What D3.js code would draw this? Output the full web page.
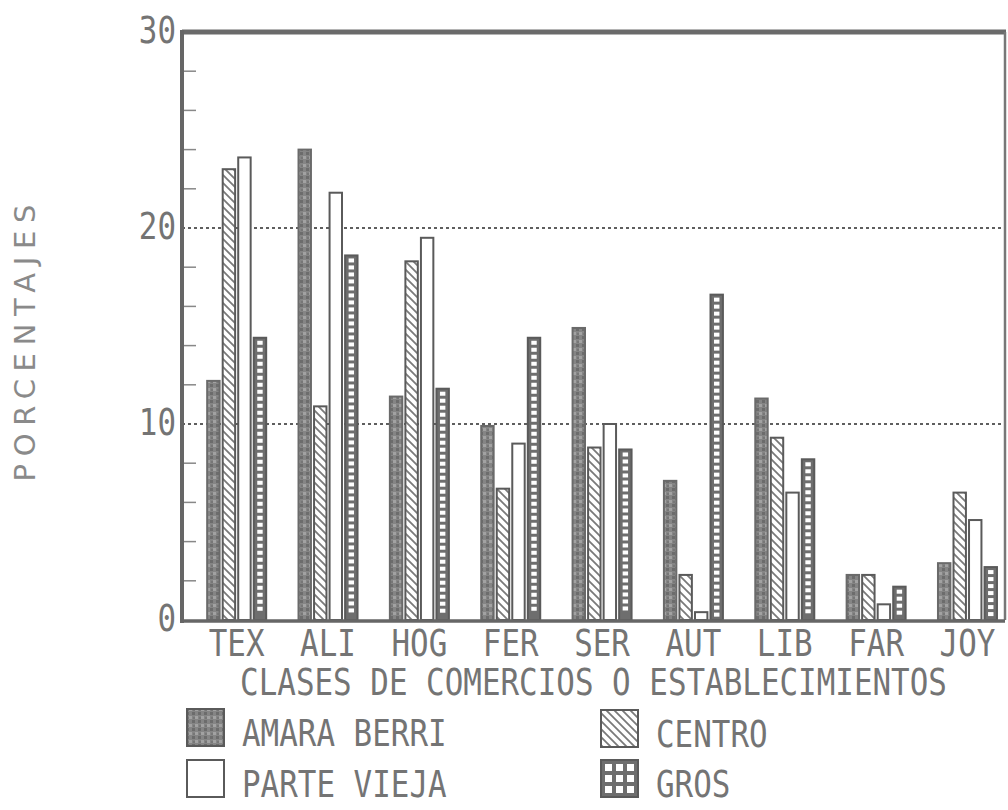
<!DOCTYPE html>
<html>
<head>
<meta charset="utf-8">
<script src="https://cdn.jsdelivr.net/npm/d3@7"></script>
<style>
  body { margin: 0; background: #fff; }
  svg { display: block; }
</style>
</head>
<body>
<div id="chart"></div>
<script>
// Categories and series
const categories = ["TEX", "ALI", "HOG", "FER", "SER", "AUT", "LIB", "FAR", "JOY"];
const seriesNames = ["AMARA BERRI", "CENTRO", "PARTE VIEJA", "GROS"];
const amaraBerri = [12.2, 24.0, 11.4, 9.9, 14.9, 7.1, 11.3, 2.3, 2.9];
const centro     = [23.0, 10.9, 18.3, 6.7, 8.8, 2.3, 9.3, 2.3, 6.5];
const parteVieja = [23.6, 21.8, 19.5, 9.0, 10.0, 0.4, 6.5, 0.8, 5.1];
const gros       = [14.4, 18.6, 11.8, 14.4, 8.7, 16.6, 8.2, 1.7, 2.7];
const yTicks = [0, 10, 20, 30];
const yMinorTicks = [2, 4, 6, 8, 12, 14, 16, 18, 22, 24, 26, 28];
const gridValues = [10, 20];

const seriesValues = [amaraBerri, centro, parteVieja, gros];

const width = 1008, height = 810;
const plotLeft = 182, plotRight = 1005, plotTop = 32, plotBottom = 620;

const svg = d3.select("#chart").append("svg")
  .attr("width", width)
  .attr("height", height);

svg.append("rect").attr("width", width).attr("height", height).attr("fill", "#fff");

const defs = svg.append("defs");

// mottled grey fill for AMARA BERRI
const pAmara = defs.append("pattern")
  .attr("id", "amara").attr("patternUnits", "userSpaceOnUse")
  .attr("width", 6).attr("height", 8);
pAmara.append("rect").attr("width", 6).attr("height", 8).attr("fill", "#858585");
pAmara.append("rect").attr("x", 0).attr("y", 0).attr("width", 3).attr("height", 3).attr("fill", "#6c6c6c");
pAmara.append("rect").attr("x", 3).attr("y", 4).attr("width", 3).attr("height", 3).attr("fill", "#a2a2a2");
pAmara.append("rect").attr("x", 1).attr("y", 5).attr("width", 2).attr("height", 2).attr("fill", "#777");

// diagonal hatch for CENTRO
const pCentro = defs.append("pattern")
  .attr("id", "centro").attr("patternUnits", "userSpaceOnUse")
  .attr("width", 8).attr("height", 8);
pCentro.append("rect").attr("width", 8).attr("height", 8).attr("fill", "#fff");
pCentro.append("path")
  .attr("d", "M0,0L8,8M-2,6L2,10M6,-2L10,2")
  .attr("stroke", "#7a7a7a").attr("stroke-width", 1.8);

// y scale
const y = d3.scaleLinear().domain([0, 30]).range([plotBottom, plotTop]);

// x scales
const x = d3.scaleBand().domain(categories).range([191, 191 + 9 * 91.35]).padding(0);
const groupWidth = 59;
const xInner = d3.scaleBand().domain(seriesNames).range([0, groupWidth]).paddingInner(0.2);
const groupLeft = c => x(c) + (x.bandwidth() - groupWidth) / 2;

// gridlines
svg.append("g").selectAll("line")
  .data(gridValues)
  .join("line")
  .attr("x1", plotLeft).attr("x2", plotRight)
  .attr("y1", d => y(d)).attr("y2", d => y(d))
  .attr("stroke", "#5e5e5e").attr("stroke-width", 2)
  .attr("stroke-dasharray", "3,3");

// minor ticks on the inside of the y axis
svg.append("g").selectAll("line")
  .data(yMinorTicks)
  .join("line")
  .attr("x1", plotLeft).attr("x2", plotLeft + 14)
  .attr("y1", d => y(d)).attr("y2", d => y(d))
  .attr("stroke", "#888").attr("stroke-width", 1.5);

// bars
const barData = [];
categories.forEach((c, i) => {
  seriesNames.forEach((s, k) => {
    barData.push({ cat: c, series: s, value: seriesValues[k][i] });
  });
});

const bars = svg.append("g");
const bw = xInner.bandwidth();

bars.selectAll("rect.bar")
  .data(barData)
  .join("rect")
  .attr("class", "bar")
  .attr("x", d => groupLeft(d.cat) + xInner(d.series))
  .attr("y", d => y(d.value))
  .attr("width", bw)
  .attr("height", d => plotBottom - y(d.value))
  .attr("fill", d => d.series === "AMARA BERRI" ? "url(#amara)"
    : d.series === "CENTRO" ? "url(#centro)"
    : d.series === "GROS" ? "#6e6e6e" : "#fff")
  .attr("stroke", d => d.series === "AMARA BERRI" ? "#6a6a6a" : "#5a5a5a")
  .attr("stroke-width", 2);

// white squares inside GROS bars
barData.filter(d => d.series === "GROS").forEach(d => {
  const bx = groupLeft(d.cat) + xInner(d.series);
  const top = y(d.value);
  const n = Math.floor((plotBottom - top - 3) / 7);
  bars.selectAll(null)
    .data(d3.range(n))
    .join("rect")
    .attr("x", bx + 3.5)
    .attr("y", j => top + 3 + j * 7)
    .attr("width", bw - 7)
    .attr("height", 4)
    .attr("fill", "#fff");
});

// frame
svg.append("line").attr("x1", plotLeft).attr("x2", plotRight + 1)
  .attr("y1", plotTop).attr("y2", plotTop)
  .attr("stroke", "#6a6a6a").attr("stroke-width", 5);
svg.append("line").attr("x1", plotRight).attr("x2", plotRight)
  .attr("y1", plotTop).attr("y2", plotBottom)
  .attr("stroke", "#777").attr("stroke-width", 2.5);
svg.append("line").attr("x1", plotLeft).attr("x2", plotRight)
  .attr("y1", plotBottom + 1).attr("y2", plotBottom + 1)
  .attr("stroke", "#666").attr("stroke-width", 3.5);
svg.append("line").attr("x1", plotLeft).attr("x2", plotLeft)
  .attr("y1", plotTop - 2).attr("y2", plotBottom + 3)
  .attr("stroke", "#666").attr("stroke-width", 4);

// plotter-like monospace text: tall and narrow
const monoSize = 37;
function monoText(g, str, px, py, anchor) {
  return g.append("text")
    .attr("transform", `translate(${px},${py}) scale(0.835,1.03)`)
    .attr("text-anchor", anchor)
    .style("font-family", "'DejaVu Sans Mono', monospace")
    .style("font-size", monoSize + "px")
    .style("fill", "#747474")
    .text(str);
}

// y tick labels
const yLab = svg.append("g");
yTicks.forEach(t => monoText(yLab, String(t), 176, y(t) + 11, "end"));

// category labels
const xLab = svg.append("g");
categories.forEach(c => monoText(xLab, c, x(c) + x.bandwidth() / 2, 656, "middle"));

// x title
monoText(svg, "CLASES DE COMERCIOS O ESTABLECIMIENTOS", (plotLeft + plotRight) / 2, 695, "middle");

// y title
svg.append("text")
  .attr("transform", "translate(35,343) rotate(-90)")
  .attr("text-anchor", "middle")
  .attr("textLength", 277)
  .attr("lengthAdjust", "spacing")
  .style("font-family", "'DejaVu Sans', sans-serif")
  .style("font-size", "29px")
  .style("fill", "#8a8a8a")
  .text("PORCENTAJES");

// legend
const legendItems = [
  { name: "AMARA BERRI", x: 187, y: 709 },
  { name: "CENTRO", x: 601, y: 710 },
  { name: "PARTE VIEJA", x: 187, y: 760 },
  { name: "GROS", x: 601, y: 760 }
];
const legend = svg.append("g");
legendItems.forEach(it => {
  const sw = 37;
  const fill = it.name === "AMARA BERRI" ? "url(#amara)"
    : it.name === "CENTRO" ? "url(#centro)"
    : it.name === "GROS" ? "#6e6e6e" : "#fff";
  legend.append("rect")
    .attr("x", it.x).attr("y", it.y)
    .attr("width", sw).attr("height", sw)
    .attr("fill", fill)
    .attr("stroke", "#5a5a5a").attr("stroke-width", 2);
  if (it.name === "GROS") {
    legend.selectAll(null)
      .data(d3.range(9))
      .join("rect")
      .attr("x", j => it.x + 4 + (j % 3) * 11)
      .attr("y", j => it.y + 4 + Math.floor(j / 3) * 11)
      .attr("width", 7).attr("height", 7)
      .attr("fill", "#fff");
  }
  monoText(legend, it.name, it.x + 55, it.y + 37, "start");
});
</script>
</body>
</html>
